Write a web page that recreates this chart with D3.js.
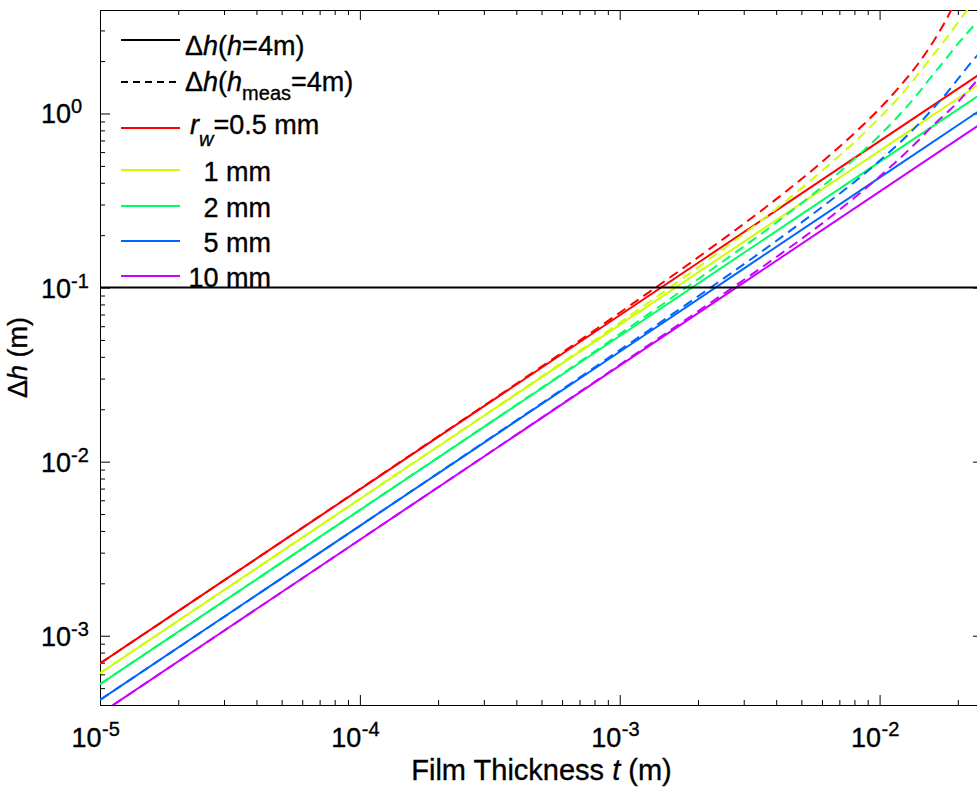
<!DOCTYPE html>
<html>
<head>
<meta charset="utf-8">
<script src="https://cdn.jsdelivr.net/npm/d3@7"></script>
<style>
body { margin: 0; background: #fff; }
svg text { font-family: "Liberation Sans", Arial, sans-serif; fill: #000; stroke: #000; stroke-width: 0.35px; }
</style>
</head>
<body>
<div class="chart"></div>
<script>
// film thickness samples (m)
const tSolid = [1e-5, 1e-4, 1e-3, 1e-2, 0.025];
const tDashed = [1e-5, 1e-4, 1e-3, 2e-3, 4e-3, 6e-3, 8e-3, 0.010, 0.012, 0.014, 0.016, 0.018, 0.020, 0.022, 0.025];

const radii = ['0.5 mm', '1 mm', '2 mm', '5 mm', '10 mm'];
const colors = ['#ff0000', '#ccff00', '#00ff66', '#0066ff', '#cc00ff'];

// dh (m), h = 4 m
const solidR05 = [6.93e-4, 6.93e-3, 0.0693, 0.693, 1.733];
const solidR1  = [6.10e-4, 6.10e-3, 0.0610, 0.610, 1.525];
const solidR2  = [5.27e-4, 5.27e-3, 0.0527, 0.527, 1.318];
const solidR5  = [4.28e-4, 4.28e-3, 0.0428, 0.428, 1.070];
const solidR10 = [3.56e-4, 3.56e-3, 0.0356, 0.356, 0.890];

// dh (m), h_meas = 4 m
const dashR05 = [6.93e-4, 6.96e-3, 0.0717, 0.149, 0.322, 0.526, 0.771, 1.067, 1.439, 1.911, 2.55, 3.43, 4.70];
const dashR1  = [6.10e-4, 6.12e-3, 0.0628, 0.1305, 0.283, 0.468, 0.683, 0.946, 1.259, 1.665, 2.147, 2.69, 3.32, 4.03];
const dashR2  = [5.27e-4, 5.28e-3, 0.0540, 0.1117, 0.236, 0.379, 0.548, 0.748, 0.993, 1.291, 1.661, 2.058, 2.509, 2.956, 3.663];
const dashR5  = [4.28e-4, 4.28e-3, 0.0437, 0.0890, 0.185, 0.290, 0.404, 0.535, 0.683, 0.857, 1.061, 1.294, 1.575, 1.883, 2.354];
const dashR10 = [3.56e-4, 3.56e-3, 0.0360, 0.0730, 0.1495, 0.233, 0.328, 0.434, 0.555, 0.693, 0.849, 1.000, 1.161, 1.363, 1.691];

const limitDh = 0.1;

const xTickExp = [-5, -4, -3, -2];
const yTickExp = [-3, -2, -1, 0];

const solids = [solidR05, solidR1, solidR2, solidR5, solidR10];
const dashes = [dashR05, dashR1, dashR2, dashR5, dashR10];

const svgwidth = 977;
const svgheight = 787;
const pLeft = 100, pRight = 983, pTop = 10, pBottom = 705;

const svg = d3.select('.chart').append('svg')
    .attr('width', svgwidth)
    .attr('height', svgheight);

const x = d3.scaleLog().domain([1e-5, 0.025]).range([pLeft, pRight]);
const y = d3.scaleLog().domain([4e-4, 3.93]).range([pBottom, pTop]);

svg.append('clipPath').attr('id', 'plotclip')
    .append('rect')
    .attr('x', pLeft).attr('y', pTop)
    .attr('width', pRight - pLeft).attr('height', pBottom - pTop);

// tick values
const xMajor = xTickExp.map(e => Math.pow(10, e));
const xMinor = [];
xTickExp.forEach(e => d3.range(2, 10).forEach(m => {
    const v = m * Math.pow(10, e);
    if (v <= 0.025) xMinor.push(v);
}));
const yMajor = yTickExp.map(e => Math.pow(10, e));
const yMinor = [];
[-4, -3, -2, -1, 0].forEach(e => d3.range(2, 10).forEach(m => {
    const v = m * Math.pow(10, e);
    if (v >= 4e-4 && v <= 3.93) yMinor.push(v);
}));

function drawAxis(axis, tx, ty) {
    const g = svg.append('g').attr('transform', `translate(${tx},${ty})`).call(axis);
    g.selectAll('text').remove();
    g.selectAll('line').attr('stroke', '#000');
    g.select('.domain').attr('stroke', '#000');
    return g;
}

drawAxis(d3.axisBottom(x).tickValues(xMajor).tickSize(-10).tickSizeOuter(0), 0, pBottom);
drawAxis(d3.axisBottom(x).tickValues(xMinor).tickSize(-5).tickSizeOuter(0), 0, pBottom);
drawAxis(d3.axisTop(x).tickValues(xMajor).tickSize(-10).tickSizeOuter(0), 0, pTop);
drawAxis(d3.axisTop(x).tickValues(xMinor).tickSize(-5).tickSizeOuter(0), 0, pTop);
drawAxis(d3.axisLeft(y).tickValues(yMajor).tickSize(-10).tickSizeOuter(0), pLeft, 0);
drawAxis(d3.axisLeft(y).tickValues(yMinor).tickSize(-5).tickSizeOuter(0), pLeft, 0);
drawAxis(d3.axisRight(y).tickValues(yMajor).tickSize(-10).tickSizeOuter(0), pRight, 0);
drawAxis(d3.axisRight(y).tickValues(yMinor).tickSize(-5).tickSizeOuter(0), pRight, 0);

// tick labels 10^n
svg.selectAll('.xbase')
    .data(xTickExp)
    .enter()
    .append('text')
    .attr('x', d => x(Math.pow(10, d)) + 1.5)
    .attr('y', 747)
    .attr('font-size', 27)
    .attr('text-anchor', 'end')
    .text('10');
svg.selectAll('.xexp')
    .data(xTickExp)
    .enter()
    .append('text')
    .attr('x', d => x(Math.pow(10, d)) + 2)
    .attr('y', 736)
    .attr('font-size', 20)
    .text(d => d);

svg.selectAll('.ybase')
    .data(yTickExp)
    .enter()
    .append('text')
    .attr('x', 71)
    .attr('y', d => y(Math.pow(10, d)) + 10)
    .attr('font-size', 27)
    .attr('text-anchor', 'end')
    .text('10');
svg.selectAll('.yexp')
    .data(yTickExp)
    .enter()
    .append('text')
    .attr('x', 71)
    .attr('y', d => y(Math.pow(10, d)))
    .attr('font-size', 20)
    .text(d => d);

// axis titles
const xt = svg.append('text')
    .attr('x', (pLeft + pRight) / 2)
    .attr('y', 780)
    .attr('font-size', 29)
    .attr('text-anchor', 'middle');
xt.append('tspan').text('Film Thickness ');
xt.append('tspan').attr('font-style', 'italic').text('t');
xt.append('tspan').text(' (m)');

const yt = svg.append('text')
    .attr('transform', `translate(27,${(pTop + pBottom) / 2}) rotate(-90)`)
    .attr('font-size', 27)
    .attr('text-anchor', 'middle');
yt.append('tspan').text('\u0394');
yt.append('tspan').attr('font-style', 'italic').text('h');
yt.append('tspan').text(' (m)');

// curves
const plot = svg.append('g').attr('clip-path', 'url(#plotclip)');

const line = d3.line()
    .x(d => x(d[0]))
    .y(d => y(d[1]))
    .curve(d3.curveMonotoneX);

solids.forEach((vals, i) => {
    plot.append('path')
        .datum(vals.map((v, j) => [tSolid[j], v]))
        .attr('d', line)
        .attr('fill', 'none')
        .attr('stroke', colors[i])
        .attr('stroke-width', 2);
});

dashes.forEach((vals, i) => {
    plot.append('path')
        .datum(vals.map((v, j) => [tDashed[j], v]))
        .attr('d', line)
        .attr('fill', 'none')
        .attr('stroke', colors[i])
        .attr('stroke-width', 2)
        .attr('stroke-dasharray', '10,6');
});

plot.append('line')
    .attr('x1', pLeft).attr('x2', pRight)
    .attr('y1', y(limitDh)).attr('y2', y(limitDh))
    .attr('stroke', '#000')
    .attr('stroke-width', 2);

// legend
const lg = svg.append('g');
const legendLine = (yy, color, dash) => lg.append('line')
    .attr('x1', 121).attr('x2', 180)
    .attr('y1', yy).attr('y2', yy)
    .attr('stroke', color)
    .attr('stroke-width', 2)
    .attr('stroke-dasharray', dash ? '7,5' : null);

legendLine(40, '#000', false);
const l1 = lg.append('text').attr('x', 185).attr('y', 55).attr('font-size', 27);
l1.append('tspan').text('\u0394');
l1.append('tspan').attr('font-style', 'italic').text('h');
l1.append('tspan').text('(');
l1.append('tspan').attr('font-style', 'italic').text('h');
l1.append('tspan').text('=4m)');

legendLine(82, '#000', true);
const l2 = lg.append('text').attr('x', 185).attr('y', 91).attr('font-size', 27);
l2.append('tspan').text('\u0394');
l2.append('tspan').attr('font-style', 'italic').text('h');
l2.append('tspan').text('(');
l2.append('tspan').attr('font-style', 'italic').text('h');
l2.append('tspan').attr('font-size', 20).attr('dy', 9).text('meas');
l2.append('tspan').attr('dy', -9).text('=4m)');

const rowY = [128, 170, 206, 241, 276];
radii.forEach((r, i) => {
    legendLine(rowY[i], colors[i], false);
});
const l3 = lg.append('text').attr('x', 190).attr('y', rowY[0] + 6).attr('font-size', 27);
l3.append('tspan').attr('font-style', 'italic').text('r');
l3.append('tspan').attr('font-size', 20).attr('font-style', 'italic').attr('dy', 12).text('w');
l3.append('tspan').attr('dy', -12).text('=' + radii[0]);

lg.selectAll('.rlab')
    .data(radii.slice(1))
    .enter()
    .append('text')
    .attr('x', 271)
    .attr('y', (d, i) => rowY[i + 1] + 11)
    .attr('font-size', 27)
    .attr('text-anchor', 'end')
    .text(d => d);
</script>
</body>
</html>
